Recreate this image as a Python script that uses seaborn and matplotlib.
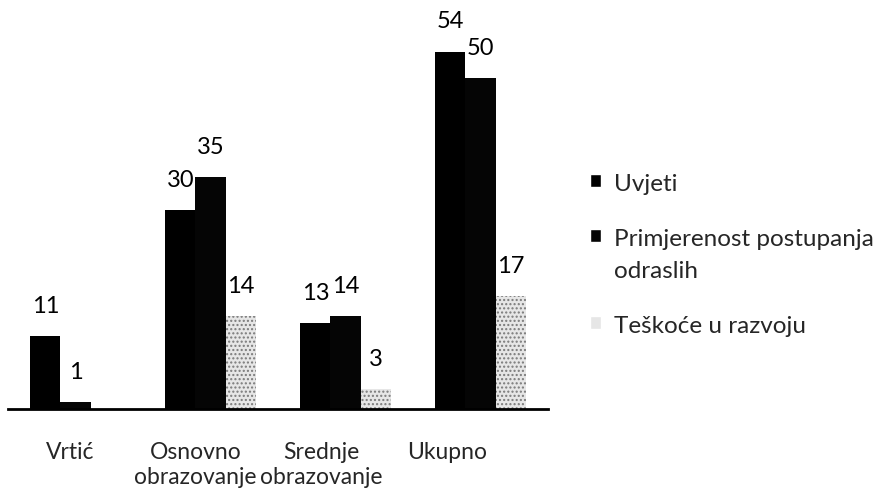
import pandas as pd
import matplotlib
matplotlib.use("Agg")
import matplotlib.pyplot as plt
import seaborn as sns

kategorije = ["Vrtić", "Osnovno\nobrazovanje", "Srednje\nobrazovanje", "Ukupno"]
serije = ["Uvjeti", "Primjerenost postupanja\nodraslih", "Teškoće u razvoju"]
uvjeti = [11, 30, 13, 54]
primjerenost = [1, 35, 14, 50]
teskoce = [0, 14, 3, 17]

def make_frame():
    rows = {"kategorija": [], "serija": [], "vrijednost": []}
    for s, vals in zip(serije, [uvjeti, primjerenost, teskoce]):
        for k, v in zip(kategorije, vals):
            rows["kategorija"].append(k)
            rows["serija"].append(s)
            rows["vrijednost"].append(v)
    return pd.DataFrame(rows)

sns.set_style("white")
plt.rcParams["font.family"] = ["Lato", "DejaVu Sans"]

df = make_frame()
fig, ax = plt.subplots(figsize=(8.82, 4.95), dpi=100)
fig.subplots_adjust(left=8 / 882, right=548 / 882, bottom=86 / 495, top=1.0)

sns.barplot(data=df, x="kategorija", y="vrijednost", hue="serija",
            palette=["#000000", "#050505", "#e6e6e6"], width=0.667,
            gap=0, saturation=1, ax=ax, legend=True)

# stippled look for the third series
for bar in ax.containers[2]:
    bar.set_hatch("....")
    bar.set_edgecolor("#7a7a7a")
    bar.set_linewidth(0)
for c in ax.containers[:2]:
    for bar in c:
        bar.set_edgecolor("none")

for c, vals in zip(ax.containers, [uvjeti, primjerenost, teskoce]):
    ax.bar_label(c, labels=[str(v) if v > 0 else "" for v in vals],
                 padding=14, fontsize=17, color="black")

ax.set_ylim(0, 61.8)
ax.set_xlim(-0.5, 3.5)
ax.set_xlabel("")
ax.set_ylabel("")
ax.set_yticks([])
# category names in the original sit a little left of their groups,
# drifting further left towards the right
ax.set_xticks([-0.04 + 0.93 * i for i in range(len(kategorije))])
ax.set_xticklabels(kategorije)
ax.tick_params(axis="x", length=0, labelsize=16.5, pad=24)
for side in ["top", "right", "left"]:
    ax.spines[side].set_visible(False)
ax.spines["bottom"].set_color("black")
ax.spines["bottom"].set_linewidth(2)

handles, labels = ax.get_legend_handles_labels()
leg = ax.legend(handles, labels, loc="upper left",
                bbox_to_anchor=(590 / 882, 1 - 174 / 495),
                bbox_transform=fig.transFigure, borderpad=0, borderaxespad=0,
                frameon=False, fontsize=17.5, handlelength=0.45, handleheight=0.45,
                handletextpad=0.55, labelspacing=1.4)
for t in leg.get_texts():
    t.set_linespacing(1.65)
# marker next to the first line of a two-line label
try:
    for col in leg._legend_handle_box.get_children():
        for item in col.get_children():
            item.align = "top"
except AttributeError:
    pass

fig.savefig("out.png", dpi=100)
